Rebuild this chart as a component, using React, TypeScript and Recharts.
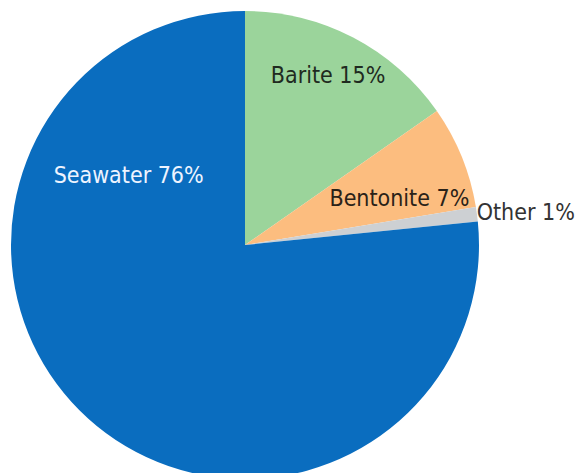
import { PieChart, Pie, Cell } from "recharts";

const names = ["Barite", "Bentonite", "Other", "Seawater"];
const values = [15.3, 7.1, 1.0, 76.6];
const labels = ["Barite 15%", "Bentonite 7%", "Other 1%", "Seawater 76%"];

const COLORS = [
  "#9bd49b", // green
  "#fcbd7f", // orange
  "#cdd0d3", // gray
  "#0a6dbf", // blue
];

// where each label sits: angle in degrees (recharts convention), radius as fraction of outerRadius
const LABEL_LAYOUT = [
  { angle: 64, r: 0.81, anchor: "middle", color: "#1f2a20" },
  { angle: 17, r: 0.69, anchor: "middle", color: "#2a2218" },
  { angle: 8, r: 1.0, anchor: "start", color: "#333333" },
  { angle: 149, r: 0.58, anchor: "middle", color: "#eef4ff" },
];

const data = names.map((name, i) => ({ name, value: values[i], label: labels[i] }));

const RAD = Math.PI / 180;

function renderLabel(props: any) {
  const { cx, cy, outerRadius, index } = props;
  const l = LABEL_LAYOUT[index];
  const x = cx + Math.cos(l.angle * RAD) * outerRadius * l.r;
  const y = cy - Math.sin(l.angle * RAD) * outerRadius * l.r;
  return (
    <text
      x={x}
      y={y}
      textAnchor={l.anchor}
      dominantBaseline="central"
      fill={l.color}
      fontSize={23}
      fontFamily="'DejaVu Sans Condensed', sans-serif"
    >
      {data[index].label}
    </text>
  );
}

export default function App() {
  return (
    <div style={{ position: "absolute", left: 0, top: 0, background: "#fff" }}>
      <PieChart width={585} height={473} margin={{ top: 0, right: 0, bottom: 0, left: 0 }}>
        <Pie
          data={data}
          dataKey="value"
          nameKey="name"
          cx={245}
          cy={245}
          outerRadius={234}
          startAngle={90}
          endAngle={-270}
          stroke="none"
          labelLine={false}
          label={renderLabel}
          isAnimationActive={false}
        >
          {data.map((entry, index) => (
            <Cell key={`cell-${index}`} fill={COLORS[index % COLORS.length]} />
          ))}
        </Pie>
      </PieChart>
    </div>
  );
}
